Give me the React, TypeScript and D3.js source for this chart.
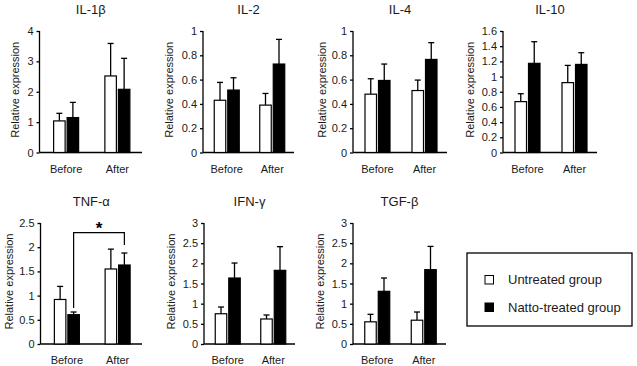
import { useEffect, useRef } from 'react'
import * as d3 from 'd3'

// cytokine panels, left-to-right then second row
const cytokines = ['IL-1β', 'IL-2', 'IL-4', 'IL-10', 'TNF-α', 'IFN-γ', 'TGF-β']
const timepoints = ['Before', 'After']

// mean relative expression [Before, After]
const untreatedMean = [
  [1.04, 2.52],
  [0.43, 0.39],
  [0.48, 0.51],
  [0.67, 0.92],
  [0.92, 1.55],
  [0.75, 0.62],
  [0.55, 0.59],
]
const untreatedTop = [
  [1.29, 3.59],
  [0.577, 0.486],
  [0.607, 0.596],
  [0.774, 1.147],
  [1.19, 1.96],
  [0.917, 0.719],
  [0.736, 0.793],
]
const nattoMean = [
  [1.15, 2.08],
  [0.514, 0.728],
  [0.593, 0.766],
  [1.174, 1.16],
  [0.606, 1.632],
  [1.636, 1.826],
  [1.306, 1.843],
]
const nattoTop = [
  [1.65, 3.1],
  [0.615, 0.931],
  [0.728, 0.904],
  [1.459, 1.314],
  [0.661, 1.88],
  [2.008, 2.413],
  [1.636, 2.42],
]

// y axis max and tick step per panel
const yMax = [4, 1, 1, 1.6, 2.5, 3, 3]
const yStep = [1, 0.2, 0.2, 0.2, 0.5, 0.5, 0.5]

const legendLabels = ['Untreated group', 'Natto-treated group']

// panel frames (pixels)
const frames = [
  { x0: 39.5, x1: 142, top: 31, bottom: 152.5, labelOff: 24 },
  { x0: 203, x1: 294, top: 31, bottom: 152.5, labelOff: 34 },
  { x0: 353, x1: 447, top: 31, bottom: 152.5, labelOff: 31 },
  { x0: 503, x1: 597, top: 31, bottom: 152.5, labelOff: 33 },
  { x0: 40.5, x1: 142, top: 223, bottom: 344, labelOff: 31 },
  { x0: 204, x1: 295, top: 223, bottom: 344, labelOff: 33 },
  { x0: 353, x1: 446, top: 223, bottom: 344, labelOff: 33 },
]

const FONT = 'Arial, "Liberation Sans", sans-serif'
const TEXT = '#1a1a1a'

function App() {
  const svgRef = useRef(null)

  useEffect(() => {
    const svg = d3.select(svgRef.current)
    svg.selectAll('*').remove()

    const barW = 11.5
    const gap = 2

    cytokines.forEach((name, i) => {
      const f = frames[i]
      const g = svg.append('g')
      const x = d3.scaleBand().domain(timepoints).range([f.x0, f.x1])
      const y = d3.scaleLinear().domain([0, yMax[i]]).range([f.bottom, f.top])
      const ticks = d3.range(0, yMax[i] + yStep[i] / 2, yStep[i]).map((v) => +v.toFixed(2))

      // title
      g.append('text')
        .attr('x', (f.x0 + f.x1) / 2)
        .attr('y', f.top - 17)
        .attr('text-anchor', 'middle')
        .attr('font-size', 13)
        .attr('font-family', FONT)
        .attr('fill', TEXT)
        .text(name)

      // y axis
      const yAxis = g
        .append('g')
        .attr('transform', `translate(${f.x0},0)`)
        .call(
          d3
            .axisLeft(y)
            .tickValues(ticks)
            .tickSize(3)
            .tickPadding(3)
            .tickFormat((d) => String(+(+d).toFixed(1)))
        )
      yAxis.select('.domain').attr('d', `M0,${f.top}V${f.bottom}`).attr('stroke-width', 1.3)
      yAxis.selectAll('.tick line').attr('stroke-width', 1.3)
      yAxis
        .selectAll('.tick text')
        .attr('font-size', 11)
        .attr('font-family', FONT)
        .attr('fill', TEXT)

      // x axis line
      g.append('line')
        .attr('x1', f.x0)
        .attr('x2', f.x1)
        .attr('y1', f.bottom)
        .attr('y2', f.bottom)
        .attr('stroke', '#000')
        .attr('stroke-width', 1.3)

      // category labels
      g.selectAll('.cat')
        .data(timepoints)
        .enter()
        .append('text')
        .attr('x', (d) => x(d) + x.bandwidth() / 2 + 1)
        .attr('y', f.bottom + 20)
        .attr('text-anchor', 'middle')
        .attr('font-size', 11)
        .attr('font-family', FONT)
        .attr('fill', TEXT)
        .text((d) => d)

      // y label
      g.append('text')
        .attr('transform', `translate(${f.x0 - f.labelOff},${(f.top + f.bottom) / 2 - 2}) rotate(-90)`)
        .attr('text-anchor', 'middle')
        .attr('dy', '0.35em')
        .attr('font-size', 11)
        .attr('font-family', FONT)
        .attr('fill', TEXT)
        .text('Relative expression')

      const series = [
        { mean: untreatedMean[i], top: untreatedTop[i], fill: '#fff', dx: -gap / 2 - barW },
        { mean: nattoMean[i], top: nattoTop[i], fill: '#000', dx: gap / 2 },
      ]

      series.forEach((s) => {
        timepoints.forEach((t, j) => {
          const cx = x(t) + x.bandwidth() / 2 + 1
          const bx = cx + s.dx
          const mid = bx + barW / 2
          // error bar (upper only)
          g.append('line')
            .attr('x1', mid)
            .attr('x2', mid)
            .attr('y1', y(s.mean[j]))
            .attr('y2', y(s.top[j]))
            .attr('stroke', '#000')
            .attr('stroke-width', 1.3)
          g.append('line')
            .attr('x1', mid - 3)
            .attr('x2', mid + 3)
            .attr('y1', y(s.top[j]))
            .attr('y2', y(s.top[j]))
            .attr('stroke', '#000')
            .attr('stroke-width', 1.3)
          g.append('rect')
            .attr('x', bx)
            .attr('y', y(s.mean[j]))
            .attr('width', barW)
            .attr('height', f.bottom - y(s.mean[j]))
            .attr('fill', s.fill)
            .attr('stroke', '#000')
            .attr('stroke-width', 1.2)
        })
      })

      // significance bracket on TNF-α (natto Before vs After)
      if (name === 'TNF-α') {
        const lx = x('Before') + x.bandwidth() / 2 + 1 + gap / 2 + barW / 2
        const rx = x('After') + x.bandwidth() / 2 + 1 + gap / 2 + barW / 2
        const by = y(2.3)
        const path = d3.path()
        path.moveTo(lx, y(nattoTop[i][0]) - 4)
        path.lineTo(lx, by)
        path.lineTo(rx, by)
        path.lineTo(rx, y(nattoTop[i][1]) - 8)
        g.append('path')
          .attr('d', path.toString())
          .attr('fill', 'none')
          .attr('stroke', '#000')
          .attr('stroke-width', 1.2)
        g.append('text')
          .attr('x', (lx + rx) / 2)
          .attr('y', by + 1)
          .attr('text-anchor', 'middle')
          .attr('font-size', 17)
          .attr('font-weight', 'bold')
          .attr('font-family', FONT)
          .text('*')
      }
    })

    // legend
    const lg = svg.append('g')
    lg.append('rect')
      .attr('x', 467)
      .attr('y', 253)
      .attr('width', 165)
      .attr('height', 73)
      .attr('fill', '#fff')
      .attr('stroke', '#000')
      .attr('stroke-width', 1.3)
    legendLabels.forEach((label, k) => {
      const ly = 284 + k * 27.5
      lg.append('rect')
        .attr('x', 485)
        .attr('y', ly - 8.5)
        .attr('width', 8.5)
        .attr('height', 8.5)
        .attr('fill', k === 0 ? '#fff' : '#000')
        .attr('stroke', '#000')
        .attr('stroke-width', 1)
      lg.append('text')
        .attr('x', 508)
        .attr('y', ly)
        .attr('font-size', 13)
        .attr('font-family', FONT)
        .attr('fill', TEXT)
        .text(label)
    })
  }, [])

  return (
    <svg
      ref={svgRef}
      width={637}
      height={366}
      style={{ position: 'absolute', left: 0, top: 0, background: '#fff' }}
    ></svg>
  )
}

export default App
